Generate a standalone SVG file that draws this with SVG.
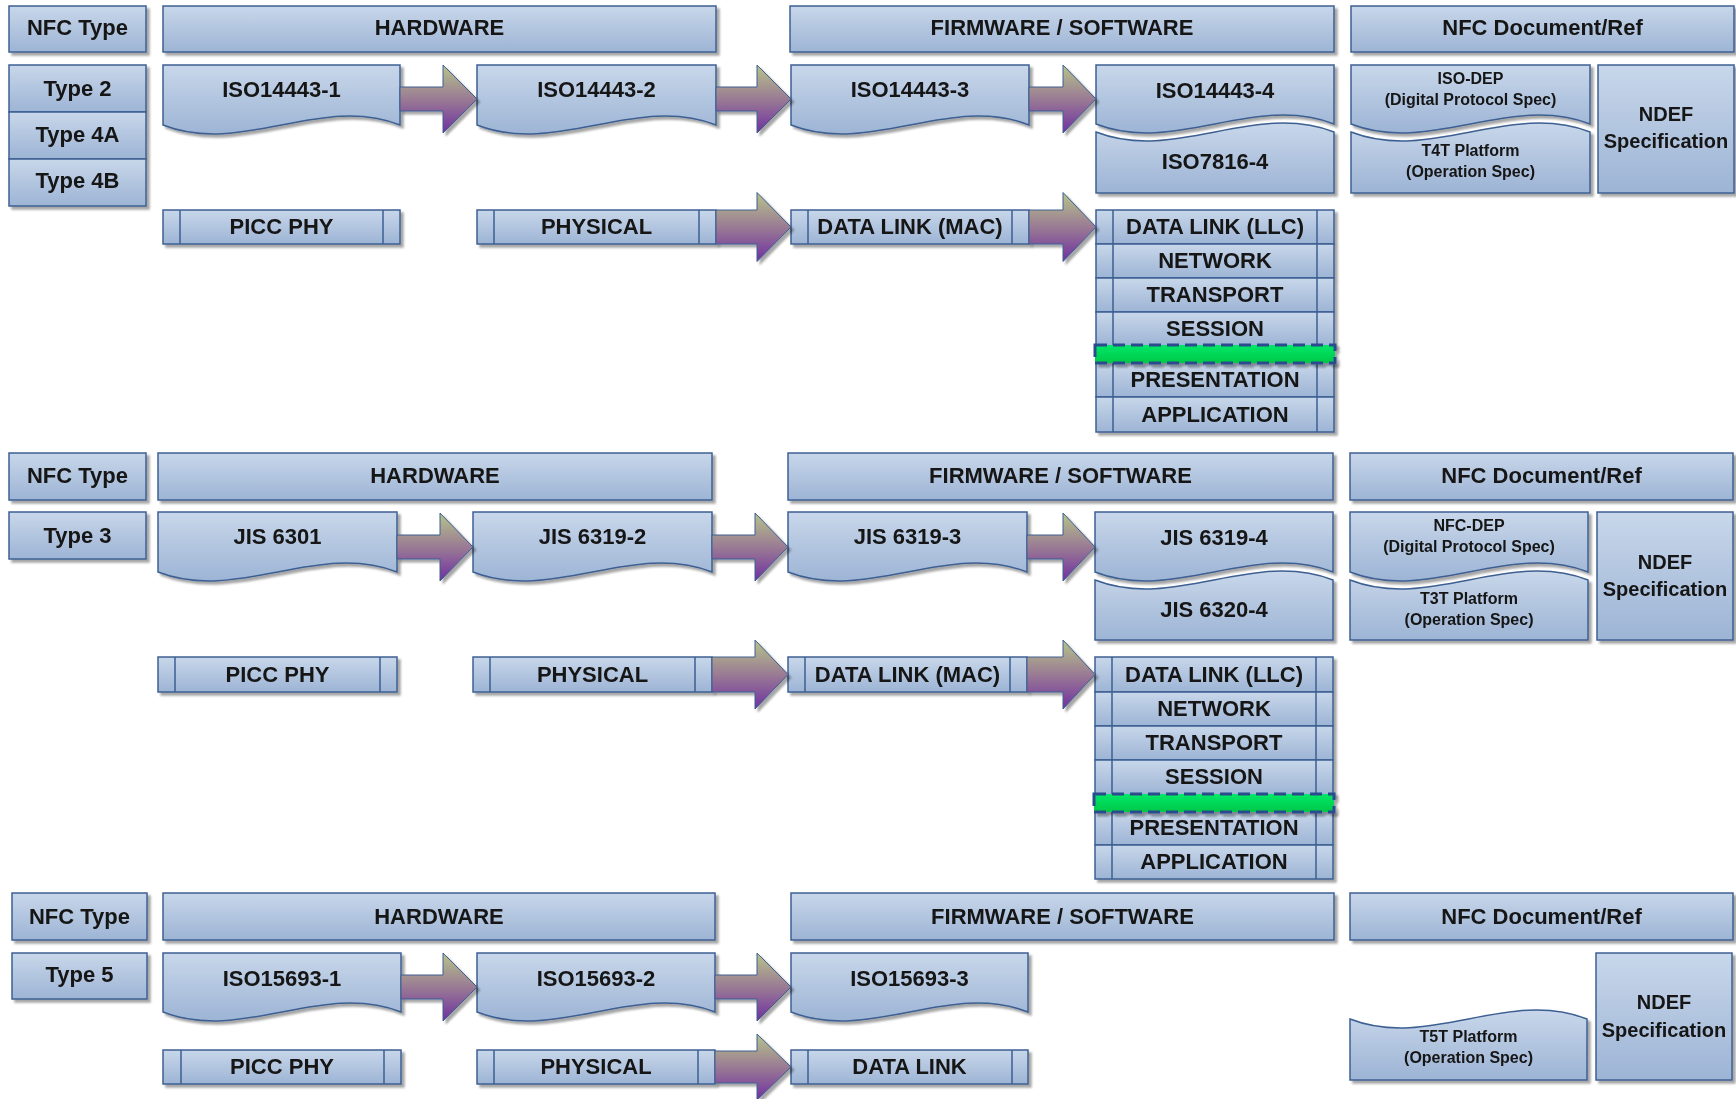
<svg xmlns="http://www.w3.org/2000/svg" width="1736" height="1099" viewBox="0 0 1736 1099">
<defs>
<linearGradient id="gBox" x1="0" y1="0" x2="0" y2="1"><stop offset="0" stop-color="#c8d7ea"/><stop offset="1" stop-color="#9db4d5"/></linearGradient>
<linearGradient id="gArr" x1="0" y1="0" x2="0" y2="1"><stop offset="0" stop-color="#b7c48a"/><stop offset="0.5" stop-color="#9a7b94"/><stop offset="1" stop-color="#7030a0"/></linearGradient>
<linearGradient id="gGreen" x1="0" y1="0" x2="0" y2="1"><stop offset="0" stop-color="#00e868"/><stop offset="1" stop-color="#00c848"/></linearGradient>
<filter id="shadow" x="-5%" y="-10%" width="115%" height="140%"><feDropShadow dx="3" dy="3" stdDeviation="1" flood-color="#000" flood-opacity="0.35"/></filter>
</defs>
<style>
.box{fill:url(#gBox);stroke:#3d5f92;stroke-width:1.5}
.arr{fill:url(#gArr);stroke:#3d5f92;stroke-width:1}
.ln{stroke:#3d5f92;stroke-width:1.5;fill:none}
.sh{filter:url(#shadow)}
.band{fill:url(#gGreen);stroke:#2b4c8c;stroke-width:3;stroke-dasharray:12 6}
text{font-family:"Liberation Sans",Arial,sans-serif;font-weight:bold;font-size:22px;fill:#141414;text-anchor:middle;transform:translate(0px,-1px)}
.s{font-size:16px}
.n{font-size:20px}
</style>

<!-- ===== Section 1 ===== -->
<g id="s1-nfctype" class="sh"><rect class="box" x="9" y="6" width="137" height="46"/><text x="77.5" y="36">NFC Type</text></g>
<g id="s1-hardware" class="sh"><rect class="box" x="163" y="6" width="553" height="46"/><text x="439.5" y="36">HARDWARE</text></g>
<g id="s1-firmware" class="sh"><rect class="box" x="790" y="6" width="544" height="46"/><text x="1062" y="36">FIRMWARE / SOFTWARE</text></g>
<g id="s1-docref" class="sh"><rect class="box" x="1351" y="6" width="383" height="46"/><text x="1542.5" y="36">NFC Document/Ref</text></g>
<g id="s1-types" class="sh">
<rect class="box" x="9" y="65" width="137" height="47"/><rect class="box" x="9" y="112" width="137" height="47"/><rect class="box" x="9" y="159" width="137" height="47"/>
<text x="77.5" y="97">Type 2</text><text x="77.5" y="143">Type 4A</text><text x="77.5" y="189">Type 4B</text></g>
<g id="s1-iso14443-1" class="sh"><path class="box" d="M163,65 H400 V125 C321,94 242,156 163,125 Z"/><text x="281.5" y="98">ISO14443-1</text></g>
<g id="s1-iso14443-2" class="sh"><path class="box" d="M477,65 H716 V125 C636.3,94 556.7,156 477,125 Z"/><text x="596.5" y="98">ISO14443-2</text></g>
<g id="s1-iso14443-3" class="sh"><path class="box" d="M791,65 H1029 V125 C949.7,94 870.3,156 791,125 Z"/><text x="910" y="98">ISO14443-3</text></g>
<g id="s1-iso14443-4" class="sh"><path class="box" d="M1096,65 H1334 V124 C1254.7,93 1175.3,155 1096,124 Z"/><text x="1215" y="99">ISO14443-4</text></g>
<g id="s1-iso7816-4" class="sh"><path class="box" d="M1096,132 C1175.3,163 1254.7,101 1334,132 V193 H1096 Z"/><text x="1215" y="170">ISO7816-4</text></g>
<g id="s1-isodep" class="sh"><path class="box" d="M1351,65 H1590 V124 C1510.3,93 1430.7,155 1351,124 Z"/><text class="s" x="1470.5" y="85">ISO-DEP</text><text class="s" x="1470.5" y="106">(Digital Protocol Spec)</text></g>
<g id="s1-t4t" class="sh"><path class="box" d="M1351,132 C1430.7,163 1510.3,101 1590,132 V193 H1351 Z"/><text class="s" x="1470.5" y="157">T4T Platform</text><text class="s" x="1470.5" y="178">(Operation Spec)</text></g>
<g id="s1-ndef" class="sh"><rect class="box" x="1598" y="65" width="136" height="128"/><text class="n" x="1666" y="122">NDEF</text><text class="n" x="1666" y="149">Specification</text></g>
<g id="s1-picc" class="sh"><rect class="box" x="163" y="210" width="237" height="34"/><path class="ln" d="M180,210 V244 M383,210 V244"/><text x="281.5" y="235">PICC PHY</text></g>
<g id="s1-physical" class="sh"><rect class="box" x="477" y="210" width="239" height="34"/><path class="ln" d="M494,210 V244 M699,210 V244"/><text x="596.5" y="235">PHYSICAL</text></g>
<g id="s1-mac" class="sh"><rect class="box" x="791" y="210" width="238" height="34"/><path class="ln" d="M808,210 V244 M1012,210 V244"/><text x="910" y="235">DATA LINK (MAC)</text></g>
<g id="s1-stack" class="sh">
<rect class="box" x="1096" y="210" width="238" height="34"/><rect class="box" x="1096" y="244" width="238" height="34"/><rect class="box" x="1096" y="278" width="238" height="34"/><rect class="box" x="1096" y="312" width="238" height="34"/><rect class="box" x="1096" y="362" width="238" height="35"/><rect class="box" x="1096" y="397" width="238" height="35"/>
<path class="ln" d="M1113,210 V346 M1317,210 V346 M1113,362 V432 M1317,362 V432"/>
<text x="1215" y="235">DATA LINK (LLC)</text><text x="1215" y="269">NETWORK</text><text x="1215" y="303">TRANSPORT</text><text x="1215" y="337">SESSION</text><text x="1215" y="388">PRESENTATION</text><text x="1215" y="423">APPLICATION</text>
</g>
<g id="s1-band" class="sh"><rect class="band" x="1095" y="345" width="240" height="18"/></g>

<!-- ===== Section 2 ===== -->
<g id="s2-nfctype" class="sh"><rect class="box" x="9" y="453" width="137" height="47"/><text x="77.5" y="484">NFC Type</text></g>
<g id="s2-hardware" class="sh"><rect class="box" x="158" y="453" width="554" height="47"/><text x="435" y="484">HARDWARE</text></g>
<g id="s2-firmware" class="sh"><rect class="box" x="788" y="453" width="545" height="47"/><text x="1060.5" y="484">FIRMWARE / SOFTWARE</text></g>
<g id="s2-docref" class="sh"><rect class="box" x="1350" y="453" width="383" height="47"/><text x="1541.5" y="484">NFC Document/Ref</text></g>
<g id="s2-types" class="sh"><rect class="box" x="9" y="512" width="137" height="47"/><text x="77.5" y="544">Type 3</text></g>
<g id="s2-jis6301" class="sh"><path class="box" d="M158,512 H397 V572 C317.3,541 237.7,603 158,572 Z"/><text x="277.5" y="545">JIS 6301</text></g>
<g id="s2-jis6319-2" class="sh"><path class="box" d="M473,512 H712 V572 C632.3,541 552.7,603 473,572 Z"/><text x="592.5" y="545">JIS 6319-2</text></g>
<g id="s2-jis6319-3" class="sh"><path class="box" d="M788,512 H1027 V572 C947.3,541 867.7,603 788,572 Z"/><text x="907.5" y="545">JIS 6319-3</text></g>
<g id="s2-jis6319-4" class="sh"><path class="box" d="M1095,512 H1333 V572 C1253.7,541 1174.3,603 1095,572 Z"/><text x="1214" y="546">JIS 6319-4</text></g>
<g id="s2-jis6320-4" class="sh"><path class="box" d="M1095,580 C1174.3,611 1253.7,549 1333,580 V640 H1095 Z"/><text x="1214" y="618">JIS 6320-4</text></g>
<g id="s2-nfcdep" class="sh"><path class="box" d="M1350,512 H1588 V572 C1508.7,541 1429.3,603 1350,572 Z"/><text class="s" x="1469" y="532">NFC-DEP</text><text class="s" x="1469" y="553">(Digital Protocol Spec)</text></g>
<g id="s2-t3t" class="sh"><path class="box" d="M1350,580 C1429.3,611 1508.7,549 1588,580 V640 H1350 Z"/><text class="s" x="1469" y="605">T3T Platform</text><text class="s" x="1469" y="626">(Operation Spec)</text></g>
<g id="s2-ndef" class="sh"><rect class="box" x="1597" y="512" width="136" height="128"/><text class="n" x="1665" y="570">NDEF</text><text class="n" x="1665" y="597">Specification</text></g>
<g id="s2-picc" class="sh"><rect class="box" x="158" y="657" width="239" height="35"/><path class="ln" d="M175,657 V692 M380,657 V692"/><text x="277.5" y="683">PICC PHY</text></g>
<g id="s2-physical" class="sh"><rect class="box" x="473" y="657" width="239" height="35"/><path class="ln" d="M490,657 V692 M695,657 V692"/><text x="592.5" y="683">PHYSICAL</text></g>
<g id="s2-mac" class="sh"><rect class="box" x="788" y="657" width="239" height="35"/><path class="ln" d="M805,657 V692 M1010,657 V692"/><text x="907.5" y="683">DATA LINK (MAC)</text></g>
<g id="s2-stack" class="sh">
<rect class="box" x="1095" y="657" width="238" height="35"/><rect class="box" x="1095" y="692" width="238" height="34"/><rect class="box" x="1095" y="726" width="238" height="34"/><rect class="box" x="1095" y="760" width="238" height="35"/><rect class="box" x="1095" y="811" width="238" height="34"/><rect class="box" x="1095" y="845" width="238" height="34"/>
<path class="ln" d="M1112,657 V795 M1316,657 V795 M1112,811 V879 M1316,811 V879"/>
<text x="1214" y="683">DATA LINK (LLC)</text><text x="1214" y="717">NETWORK</text><text x="1214" y="751">TRANSPORT</text><text x="1214" y="785">SESSION</text><text x="1214" y="836">PRESENTATION</text><text x="1214" y="870">APPLICATION</text>
</g>
<g id="s2-band" class="sh"><rect class="band" x="1094" y="794" width="240" height="18"/></g>

<!-- ===== Section 3 ===== -->
<g id="s3-nfctype" class="sh"><rect class="box" x="12" y="893" width="135" height="47"/><text x="79.5" y="925">NFC Type</text></g>
<g id="s3-hardware" class="sh"><rect class="box" x="163" y="893" width="552" height="47"/><text x="439" y="925">HARDWARE</text></g>
<g id="s3-firmware" class="sh"><rect class="box" x="791" y="893" width="543" height="47"/><text x="1062.5" y="925">FIRMWARE / SOFTWARE</text></g>
<g id="s3-docref" class="sh"><rect class="box" x="1350" y="893" width="383" height="47"/><text x="1541.5" y="925">NFC Document/Ref</text></g>
<g id="s3-types" class="sh"><rect class="box" x="12" y="953" width="135" height="46"/><text x="79.5" y="983">Type 5</text></g>
<g id="s3-iso15693-1" class="sh"><path class="box" d="M163,953 H401 V1012 C321.7,981 242.3,1043 163,1012 Z"/><text x="282" y="987">ISO15693-1</text></g>
<g id="s3-iso15693-2" class="sh"><path class="box" d="M477,953 H715 V1012 C635.7,981 556.3,1043 477,1012 Z"/><text x="596" y="987">ISO15693-2</text></g>
<g id="s3-iso15693-3" class="sh"><path class="box" d="M791,953 H1028 V1012 C949,981 870,1043 791,1012 Z"/><text x="909.5" y="987">ISO15693-3</text></g>
<g id="s3-t5t" class="sh"><path class="box" d="M1350,1019 C1429,1050 1508,988 1587,1019 V1080 H1350 Z"/><text class="s" x="1468.5" y="1043">T5T Platform</text><text class="s" x="1468.5" y="1064">(Operation Spec)</text></g>
<g id="s3-ndef" class="sh"><rect class="box" x="1596" y="953" width="136" height="127"/><text class="n" x="1664" y="1010">NDEF</text><text class="n" x="1664" y="1038">Specification</text></g>
<g id="s3-picc" class="sh"><rect class="box" x="163" y="1050" width="238" height="34"/><path class="ln" d="M181,1050 V1084 M384,1050 V1084"/><text x="282" y="1075">PICC PHY</text></g>
<g id="s3-physical" class="sh"><rect class="box" x="477" y="1050" width="238" height="34"/><path class="ln" d="M494,1050 V1084 M698,1050 V1084"/><text x="596" y="1075">PHYSICAL</text></g>
<g id="s3-datalink" class="sh"><rect class="box" x="791" y="1050" width="237" height="34"/><path class="ln" d="M808,1050 V1084 M1012,1050 V1084"/><text x="909.5" y="1075">DATA LINK</text></g>

<!-- ===== Connectors ===== -->
<g id="connectors" class="sh">
<path class="arr" d="M400,87 H443 V65 L477,99 L443,133 V111 H400 Z"/>
<path class="arr" d="M716,87 H757 V65 L791,99 L757,133 V111 H716 Z"/>
<path class="arr" d="M1029,87 H1063 V65 L1096,99 L1063,133 V111 H1029 Z"/>
<path class="arr" d="M716,210 H757 V192.5 L791,227 L757,261.5 V244 H716 Z"/>
<path class="arr" d="M1029,210 H1063 V192.5 L1096,227 L1063,261.5 V244 H1029 Z"/>
<path class="arr" d="M397,535 H440 V513 L473,547 L440,581 V559 H397 Z"/>
<path class="arr" d="M712,535 H755 V513 L788,547 L755,581 V559 H712 Z"/>
<path class="arr" d="M1027,535 H1063 V513 L1095,547 L1063,581 V559 H1027 Z"/>
<path class="arr" d="M712,657 H755 V640 L788,674.5 L755,709 V692 H712 Z"/>
<path class="arr" d="M1027,657 H1063 V640 L1095,674.5 L1063,709 V692 H1027 Z"/>
<path class="arr" d="M401,975 H443 V953 L477,987 L443,1021 V999 H401 Z"/>
<path class="arr" d="M715,975 H757 V953 L791,987 L757,1021 V999 H715 Z"/>
<path class="arr" d="M715,1051 H757 V1034 L791,1067 L757,1100 V1083 H715 Z"/>
</g>
</svg>
